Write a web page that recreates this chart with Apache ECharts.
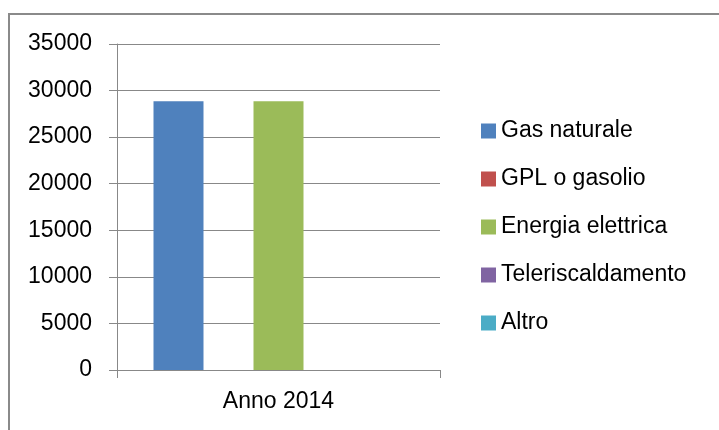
<!DOCTYPE html>
<html>
<head>
<meta charset="utf-8">
<script src="https://cdn.jsdelivr.net/npm/echarts@6/dist/echarts.min.js"></script>
<style>html,body{margin:0;padding:0;background:#fff;}#c{width:719px;height:430px;}</style>
</head>
<body>
<div id="c"></div>
<script>
var categories = ['Anno 2014'];
var seriesNames = ['Gas naturale', 'GPL o gasolio', 'Energia elettrica', 'Teleriscaldamento', 'Altro'];
var gasNaturale = [28850];
var gplGasolio = [0];
var energiaElettrica = [28850];
var teleriscaldamento = [0];
var altro = [0];
var yTicks = { min: 0, max: 35000, interval: 5000 };

var seriesData = [gasNaturale, gplGasolio, energiaElettrica, teleriscaldamento, altro];
var colors = ['#4F81BD', '#C0504D', '#9BBB59', '#8064A2', '#4BACC6'];
var font = 'Liberation Sans';

var chart = echarts.init(document.getElementById('c'), null, { renderer: 'canvas' });
chart.setOption({
  animation: false,
  backgroundColor: '#fff',
  color: colors,
  graphic: [{
    type: 'rect',
    shape: { x: 9, y: 14, width: 900, height: 600 },
    style: { fill: 'none', stroke: '#8a8a8a', lineWidth: 2 },
    silent: true
  }],
  grid: { left: 117, top: 44, right: 279, bottom: 60, containLabel: false },
  legend: {
    orient: 'vertical',
    left: 481,
    top: 119,
    padding: 0,
    itemWidth: 15,
    itemHeight: 15,
    itemGap: 24,
    icon: 'rect',
    textStyle: { fontFamily: font, fontSize: 23, color: '#000', lineHeight: 24 },
    data: seriesNames
  },
  xAxis: {
    type: 'category',
    data: categories,
    axisLine: { show: true, lineStyle: { color: '#888', width: 1 } },
    axisTick: { show: true, alignWithLabel: false, length: 8, lineStyle: { color: '#888' } },
    axisLabel: { fontFamily: font, fontSize: 23, color: '#000', margin: 20 },
    splitLine: { show: false }
  },
  yAxis: {
    type: 'value',
    min: yTicks.min,
    max: yTicks.max,
    interval: yTicks.interval,
    axisLine: { show: true, lineStyle: { color: '#888', width: 1 } },
    axisTick: { show: true, length: 8, lineStyle: { color: '#888' } },
    axisLabel: { fontFamily: font, fontSize: 23, color: '#000', margin: 25, formatter: function (v) { return String(v); } },
    splitLine: { show: true, lineStyle: { color: '#888', width: 1 } }
  },
  series: seriesNames.map(function (n, i) {
    return {
      name: n,
      type: 'bar',
      data: seriesData[i],
      barGap: '0%',
      barCategoryGap: '22.6%',
      itemStyle: { color: colors[i] }
    };
  })
});
</script>
</body>
</html>
